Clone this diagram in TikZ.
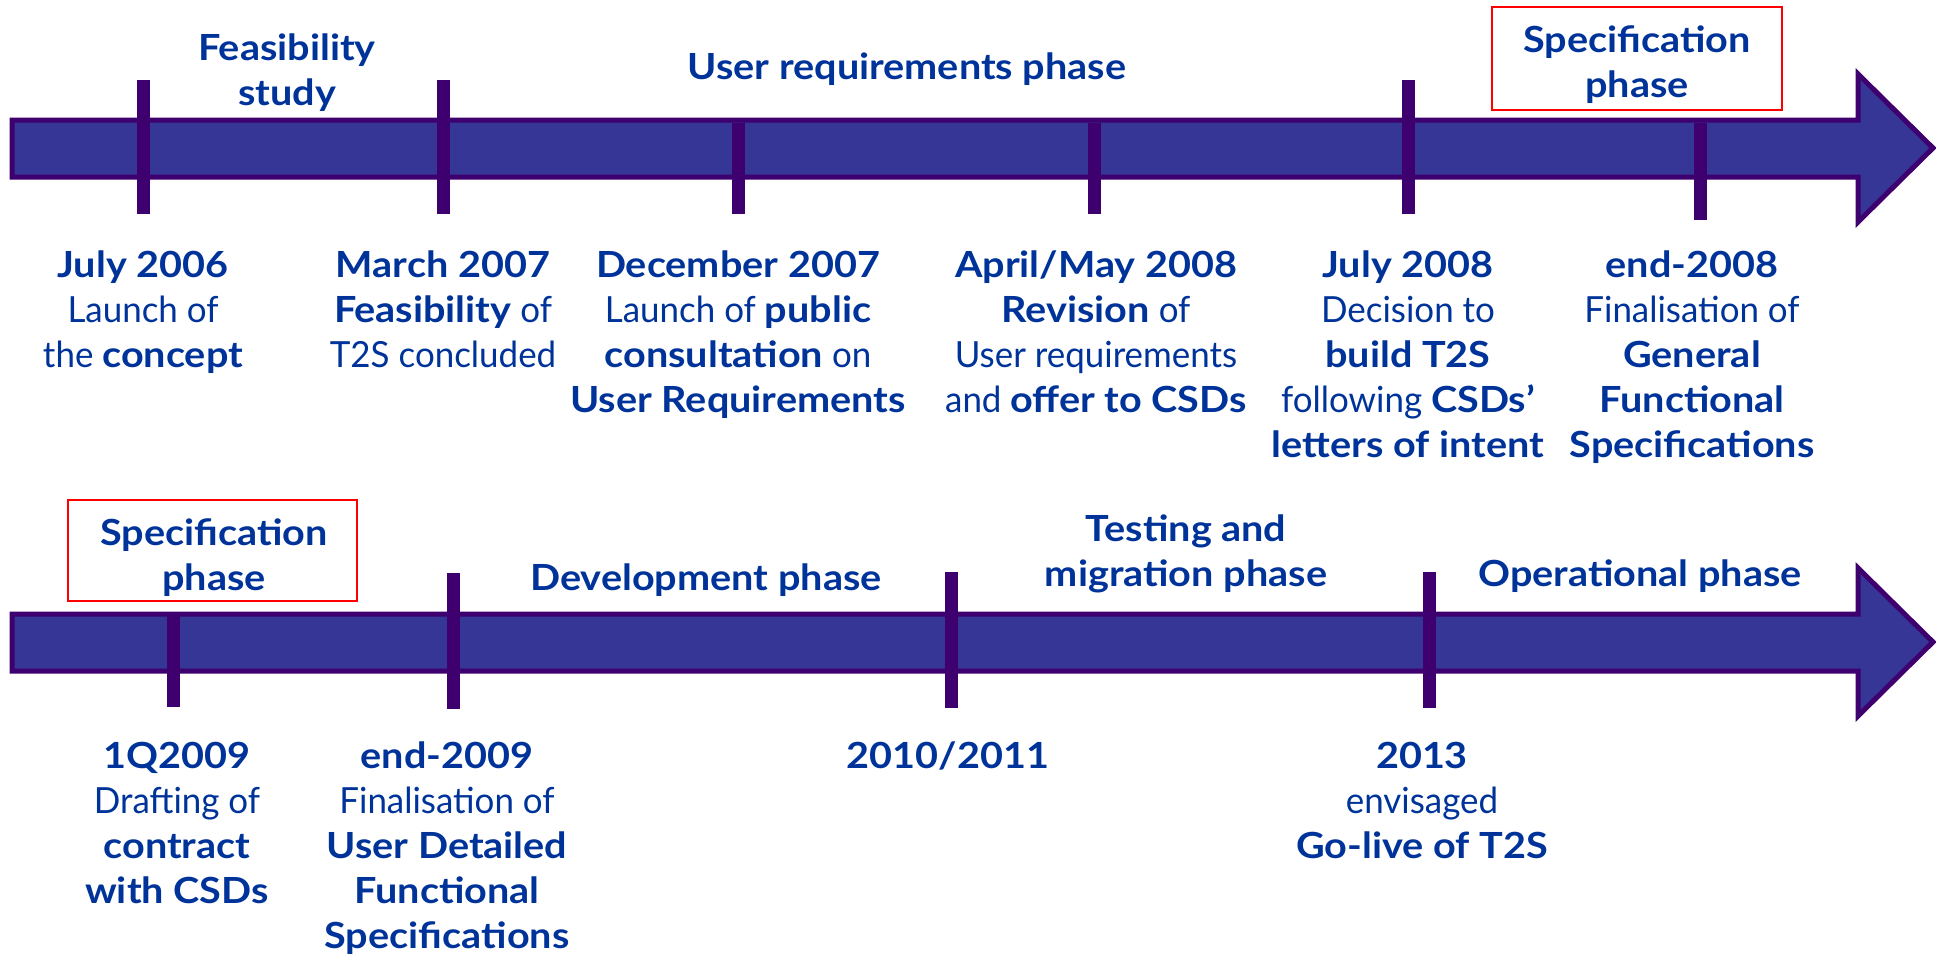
\documentclass[tikz,border=0pt]{standalone}
\usepackage{fontspec}
\setmainfont{Lato}[UprightFeatures={FakeStretch=0.97}, BoldFeatures={FakeStretch=1.1}]
\usetikzlibrary{positioning}
\definecolor{txtblue}{RGB}{0,51,153}
\definecolor{barfill}{RGB}{54,54,150}
\definecolor{barline}{RGB}{61,0,110}
\definecolor{boxred}{RGB}{255,0,0}
\begin{document}
\begin{tikzpicture}[x=1pt,y=-1pt,
  lbl/.style={inner sep=0pt, anchor=base, text=txtblue, font=\fontsize{36}{45}\selectfont},
  phase/.style={lbl, font=\fontsize{36}{45}\selectfont\bfseries},
  redbox/.style={draw=boxred, line width=2pt, fill=none},
  bar/.style={fill=barfill, draw=barline, line width=5pt, line join=miter},
  tickmark/.style={draw=barline, line width=13pt}
]
\useasboundingbox (0,0) rectangle (1936,954);

% ---------- top arrow ----------
\path[bar] (12,120) -- (1858,120) -- (1858,74) -- (1933,148) -- (1858,222) -- (1858,177) -- (12,177) -- cycle;
\draw[tickmark] (143,80) -- (143,214);
\draw[tickmark] (443,80) -- (443,214);
\draw[tickmark] (738,123) -- (738,214);
\draw[tickmark] (1094,123) -- (1094,214);
\draw[tickmark] (1408,80) -- (1408,214);
\draw[tickmark] (1700,123) -- (1700,220);

% phases top
\node[phase] (feas) at (287,60) {\begin{tabular}[t]{@{}c@{}}Feasibility\\study\end{tabular}};
\node[phase] (ureq) at (907,79) {User requirements phase};
\draw[redbox] (1492,7) rectangle (1782,110);
\node[phase] (spec1) at (1637,52) {\begin{tabular}[t]{@{}c@{}}Specification\\phase\end{tabular}};

% dates top
\node[lbl] (d1) at (143,277) {\begin{tabular}[t]{@{}c@{}}\textbf{July 2006}\\Launch of\\the \textbf{concept}\end{tabular}};
\node[lbl] (d2) at (443,277) {\begin{tabular}[t]{@{}c@{}}\textbf{March 2007}\\\textbf{Feasibility} of\\T2S concluded\end{tabular}};
\node[lbl] (d3) at (738,277) {\begin{tabular}[t]{@{}c@{}}\textbf{December 2007}\\Launch of \textbf{public}\\\textbf{consultation} on\\\textbf{User Requirements}\end{tabular}};
\node[lbl] (d4) at (1096,277) {\begin{tabular}[t]{@{}c@{}}\textbf{April/May 2008}\\\textbf{Revision} of\\User requirements\\and \textbf{offer to CSDs}\end{tabular}};
\node[lbl] (d5) at (1408,277) {\begin{tabular}[t]{@{}c@{}}\textbf{July 2008}\\Decision to\\\textbf{build T2S}\\following \textbf{CSDs’}\\\textbf{letters of intent}\end{tabular}};
\node[lbl] (d6) at (1692,277) {\begin{tabular}[t]{@{}c@{}}\textbf{end-2008}\\Finalisation of\\\textbf{General}\\\textbf{Functional}\\\textbf{Specifications}\end{tabular}};

% ---------- bottom arrow ----------
\path[bar] (12,614) -- (1858,614) -- (1858,568) -- (1933,642) -- (1858,716) -- (1858,671) -- (12,671) -- cycle;
\draw[tickmark] (173,616) -- (173,707);
\draw[tickmark] (453,573) -- (453,709);
\draw[tickmark] (951,572) -- (951,708);
\draw[tickmark] (1429,572) -- (1429,708);

% phases bottom
\draw[redbox] (68,500) rectangle (357,601);
\node[phase] (spec2) at (214,545) {\begin{tabular}[t]{@{}c@{}}Specification\\phase\end{tabular}};
\node[phase] (dev) at (706,590) {Development phase};
\node[phase] (test) at (1186,541) {\begin{tabular}[t]{@{}c@{}}Testing and\\migration phase\end{tabular}};
\node[phase] (oper) at (1640,586) {Operational phase};

% dates bottom
\node[lbl] (e1) at (177,768) {\begin{tabular}[t]{@{}c@{}}\textbf{1Q2009}\\Drafting of\\\textbf{contract}\\\textbf{with CSDs}\end{tabular}};
\node[lbl] (e2) at (447,768) {\begin{tabular}[t]{@{}c@{}}\textbf{end-2009}\\Finalisation of\\\textbf{User Detailed}\\\textbf{Functional}\\\textbf{Specifications}\end{tabular}};
\node[lbl] (e3) at (948,768) {\textbf{2010/2011}};
\node[lbl] (e4) at (1422,768) {\begin{tabular}[t]{@{}c@{}}\textbf{2013}\\envisaged\\\textbf{Go-live of T2S}\end{tabular}};
\end{tikzpicture}
\end{document}
